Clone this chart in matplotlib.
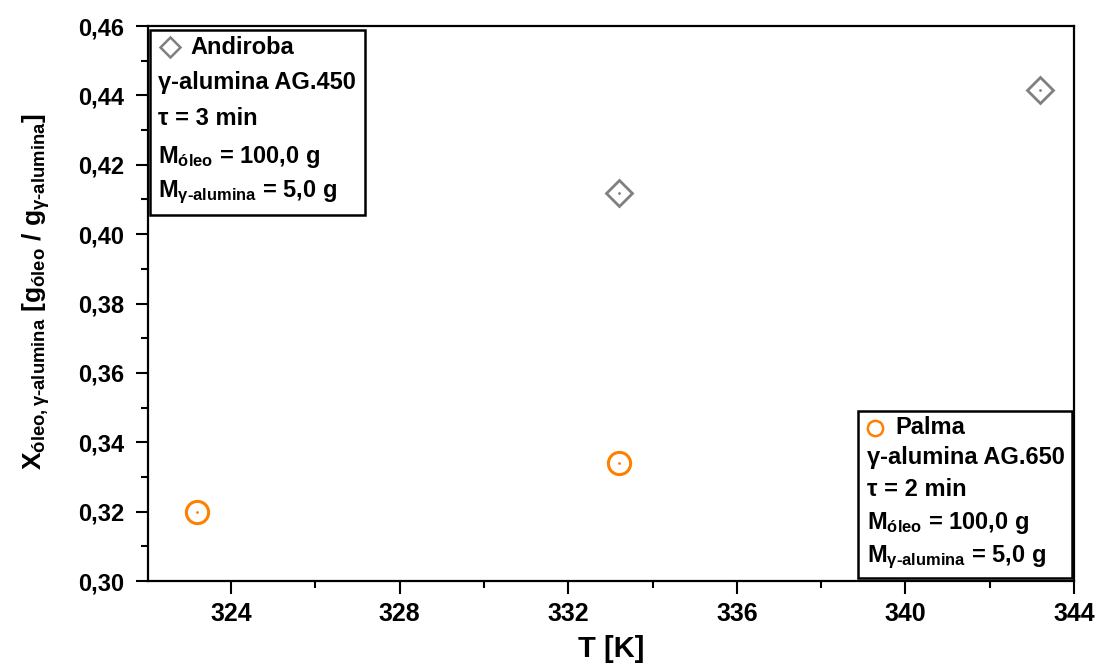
import matplotlib
matplotlib.use('Agg')
import matplotlib.pyplot as plt
from matplotlib.patches import Rectangle
from matplotlib.ticker import MultipleLocator

plt.rcParams['font.family'] = ['Liberation Sans', 'DejaVu Sans']
plt.rcParams['font.weight'] = 'bold'
plt.rcParams['mathtext.fontset'] = 'custom'
plt.rcParams['mathtext.rm'] = 'Liberation Sans:bold'
plt.rcParams['mathtext.it'] = 'Liberation Sans:bold'
plt.rcParams['mathtext.bf'] = 'Liberation Sans:bold'
plt.rcParams['mathtext.default'] = 'rm'

# data
t_andiroba = [333.2, 343.2]
x_andiroba = [0.412, 0.4415]
t_palma = [323.2, 333.2]
x_palma = [0.320, 0.334]

x_ticks = [324, 328, 332, 336, 340, 344]
y_ticks = [0.30, 0.32, 0.34, 0.36, 0.38, 0.40, 0.42, 0.44, 0.46]
y_tick_labels = ['0,30', '0,32', '0,34', '0,36', '0,38', '0,40', '0,42', '0,44', '0,46']

andiroba_lines = ['γ-alumina AG.450', 'τ = 3 min',
                  r'M$_{óleo}$ = 100,0 g', r'M$_{γ\text{-}alumina}$ = 5,0 g']
palma_lines = ['γ-alumina AG.650', 'τ = 2 min',
               r'M$_{óleo}$ = 100,0 g', r'M$_{γ\text{-}alumina}$ = 5,0 g']

gray = '#808080'
orange = '#ff8000'

fig = plt.figure(figsize=(11.03, 6.64), dpi=100)
ax = fig.add_axes([0.1342, 0.125, 0.8395, 0.8358])

ax.plot(t_andiroba, x_andiroba, 'D', ms=13, mfc='none', mec=gray, mew=2, ls='none')
ax.plot(t_andiroba, x_andiroba, '.', ms=2, color=gray, ls='none')
ax.plot(t_palma, x_palma, 'o', ms=16, mfc='none', mec=orange, mew=2.2, ls='none')
ax.plot(t_palma, x_palma, '.', ms=2, color=orange, ls='none')

ax.set_xlim(322.03, 344)
ax.set_ylim(0.30, 0.46)
ax.set_xticks(x_ticks)
ax.xaxis.set_minor_locator(MultipleLocator(2))
ax.set_yticks(y_ticks)
ax.set_yticklabels(y_tick_labels)
ax.yaxis.set_minor_locator(MultipleLocator(0.01))
ax.tick_params(which='major', direction='out', length=9, width=1.5)
ax.tick_params(which='minor', direction='out', length=5, width=1.5)
ax.tick_params(axis='x', which='major', labelsize=18, pad=6)
ax.tick_params(axis='y', which='major', labelsize=17, pad=8)
for s in ax.spines.values():
    s.set_linewidth(1.6)

ax.set_xlabel('T [K]', fontsize=21, fontweight='bold')
ax.xaxis.set_label_coords(0.5, -0.098)
ax.set_ylabel(r'X$_{óleo,γ\text{-}alumina}$ [g$_{óleo}$ / g$_{γ\text{-}alumina}$]',
              fontsize=19, fontweight='bold', va='center')
ax.yaxis.set_label_coords(-0.121, 0.522)

# annotation boxes
ax.add_patch(Rectangle((0.002, 0.659), 0.2323, 0.334, transform=ax.transAxes,
                       fill=False, ec='black', lw=1.8, zorder=5))
ax.plot([0.0238], [0.962], 'D', ms=10, mfc='none', mec=gray, mew=1.8,
        transform=ax.transAxes, clip_on=False)
ax.text(0.0454, 0.962, 'Andiroba', transform=ax.transAxes, fontsize=17,
        va='center', ha='left')
andiroba_y = [0.899, 0.834, 0.764, 0.701]
for line, yy in zip(andiroba_lines, andiroba_y):
    ax.text(0.011, yy, line, transform=ax.transAxes,
            fontsize=17, va='center', ha='left')

ax.add_patch(Rectangle((0.7667, 0.005), 0.2311, 0.301, transform=ax.transAxes,
                       fill=False, ec='black', lw=1.8, zorder=5))
ax.plot([0.785], [0.276], 'o', ms=11, mfc='none', mec=orange, mew=1.8,
        transform=ax.transAxes, clip_on=False)
ax.text(0.8067, 0.276, 'Palma', transform=ax.transAxes, fontsize=17,
        va='center', ha='left')
palma_y = [0.223, 0.164, 0.1045, 0.043]
for line, yy in zip(palma_lines, palma_y):
    ax.text(0.7765, yy, line, transform=ax.transAxes,
            fontsize=17, va='center', ha='left')

fig.savefig('out.png', dpi=100)
